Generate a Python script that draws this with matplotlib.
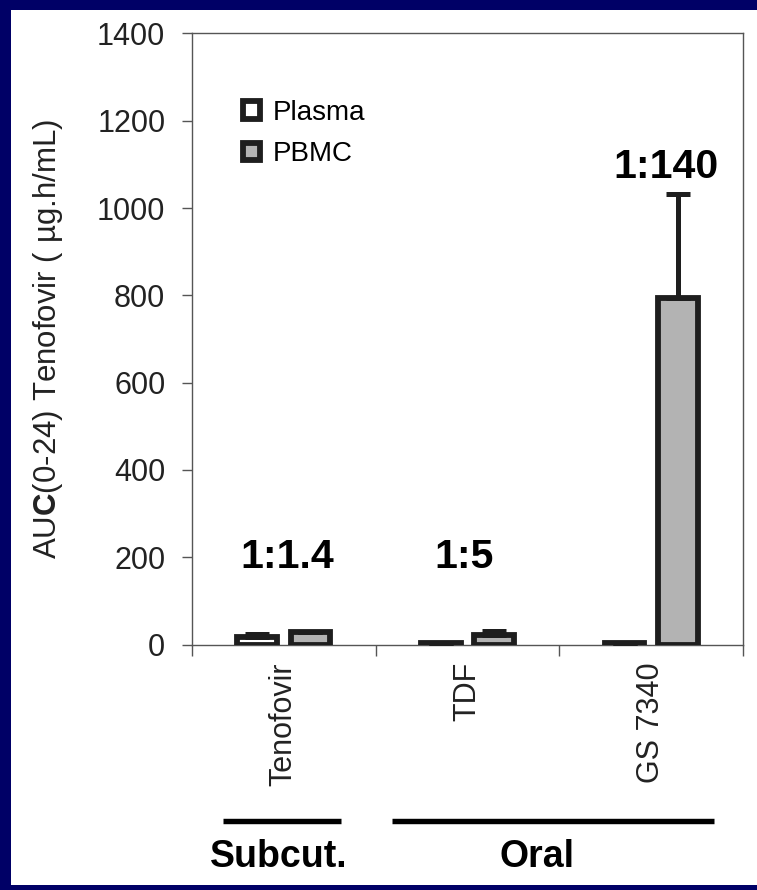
import numpy as np
import matplotlib
matplotlib.use('Agg')
from matplotlib import pyplot as plt
from matplotlib.patches import Rectangle
import matplotlib.transforms as mtransforms

plt.rcParams['font.family'] = ['Liberation Sans', 'DejaVu Sans']
plt.rcParams['mathtext.fontset'] = 'custom'
plt.rcParams['mathtext.rm'] = 'Liberation Sans'
plt.rcParams['mathtext.bf'] = 'Liberation Sans:bold'

# data
categories = ['Tenofovir', 'TDF', 'GS 7340']
plasma = [18, 3, 3]
plasma_err = [5, 0, 0]
pbmc = [29, 22, 795]
pbmc_err = [0, 8, 238]
ratios = ['1:1.4', '1:5', '1:140']
ratio_x = [0.02, 0.98, 2.08]
ratio_y = [200, 200, 1093]
routes = ['Subcut.', 'Oral']
route_span = [(-0.33, 0.31), (0.59, 2.34)]
route_x = [-0.03, 1.38]

EDGE = '#1e1e1e'
NAVY = '#000066'


def main():
    fig = plt.figure(figsize=(7.57, 8.90), dpi=100)
    fig.patch.set_facecolor(NAVY)
    # white slide panel
    fig.patches.append(Rectangle((11 / 757, 5 / 890), 1 - 11 / 757, 875 / 890,
                                 transform=fig.transFigure, facecolor='white',
                                 edgecolor='none', zorder=-1))

    ax = fig.add_axes([0.2536, 0.2758, 0.7279, 0.6866])
    ax.set_facecolor('white')

    x = np.arange(len(categories))
    w = 0.215
    off = 0.145
    err_kw = dict(ecolor=EDGE, elinewidth=3.6, capsize=8.6, capthick=3.6)
    ax.bar(x - off, plasma, w, color='white', edgecolor=EDGE, linewidth=4.2,
           yerr=[np.zeros(3), plasma_err], error_kw=err_kw, label='Plasma', zorder=3)
    ax.bar(x + off, pbmc, w, color='#b3b3b3', edgecolor=EDGE, linewidth=4.2,
           yerr=[np.zeros(3), pbmc_err], error_kw=err_kw, label='PBMC', zorder=3)

    ax.set_xlim(-0.5, 2.5)
    ax.set_ylim(0, 1400)
    ax.set_yticks(np.arange(0, 1401, 200))
    ax.set_xticks([-0.5, 0.5, 1.5, 2.5])
    ax.set_xticklabels([])
    ax.set_xticks(x, minor=True)
    ax.set_xticklabels(categories, minor=True, rotation=90)

    for s in ax.spines.values():
        s.set_color('#555555')
        s.set_linewidth(1.0)
    ax.tick_params(axis='y', direction='out', length=7.2, width=1.0, color='#555555',
                   labelsize=22, labelcolor='#222222', pad=12)
    ax.tick_params(axis='x', which='major', direction='out', length=8, width=1.0,
                   color='#555555')
    ax.tick_params(axis='x', which='minor', length=0, labelsize=22,
                   labelcolor='#222222', pad=12.6)

    ax.set_ylabel(r'AU$\mathbf{C}$(0-24) Tenofovir ( µg.h/mL)', fontsize=22.5,
                  color='#222222', va='center')
    ax.yaxis.set_label_coords(-0.262, 0.5)

    ax.legend(loc='upper left', bbox_to_anchor=(0.093, 0.891), frameon=False,
              fontsize=20, handlelength=0.6, handleheight=0.6,
              handletextpad=0.45, labelspacing=0.55, borderpad=0, borderaxespad=0)

    for t, tx, ty in zip(ratios, ratio_x, ratio_y):
        ax.text(tx, ty, t, ha='center', va='center', fontsize=29.5,
                fontweight='bold', color='black')

    trans = mtransforms.blended_transform_factory(ax.transData, ax.transAxes)
    for name, (a, b), tx in zip(routes, route_span, route_x):
        ax.plot([a, b], [-0.289, -0.289], color='black', linewidth=3.9,
                solid_capstyle='butt', transform=trans, clip_on=False)
        ax.text(tx, -0.347, name, ha='center', va='center', fontsize=27,
                fontweight='bold', color='black', transform=trans)

    fig.savefig('out.png', dpi=100, facecolor=fig.get_facecolor())


if __name__ == '__main__':
    main()
